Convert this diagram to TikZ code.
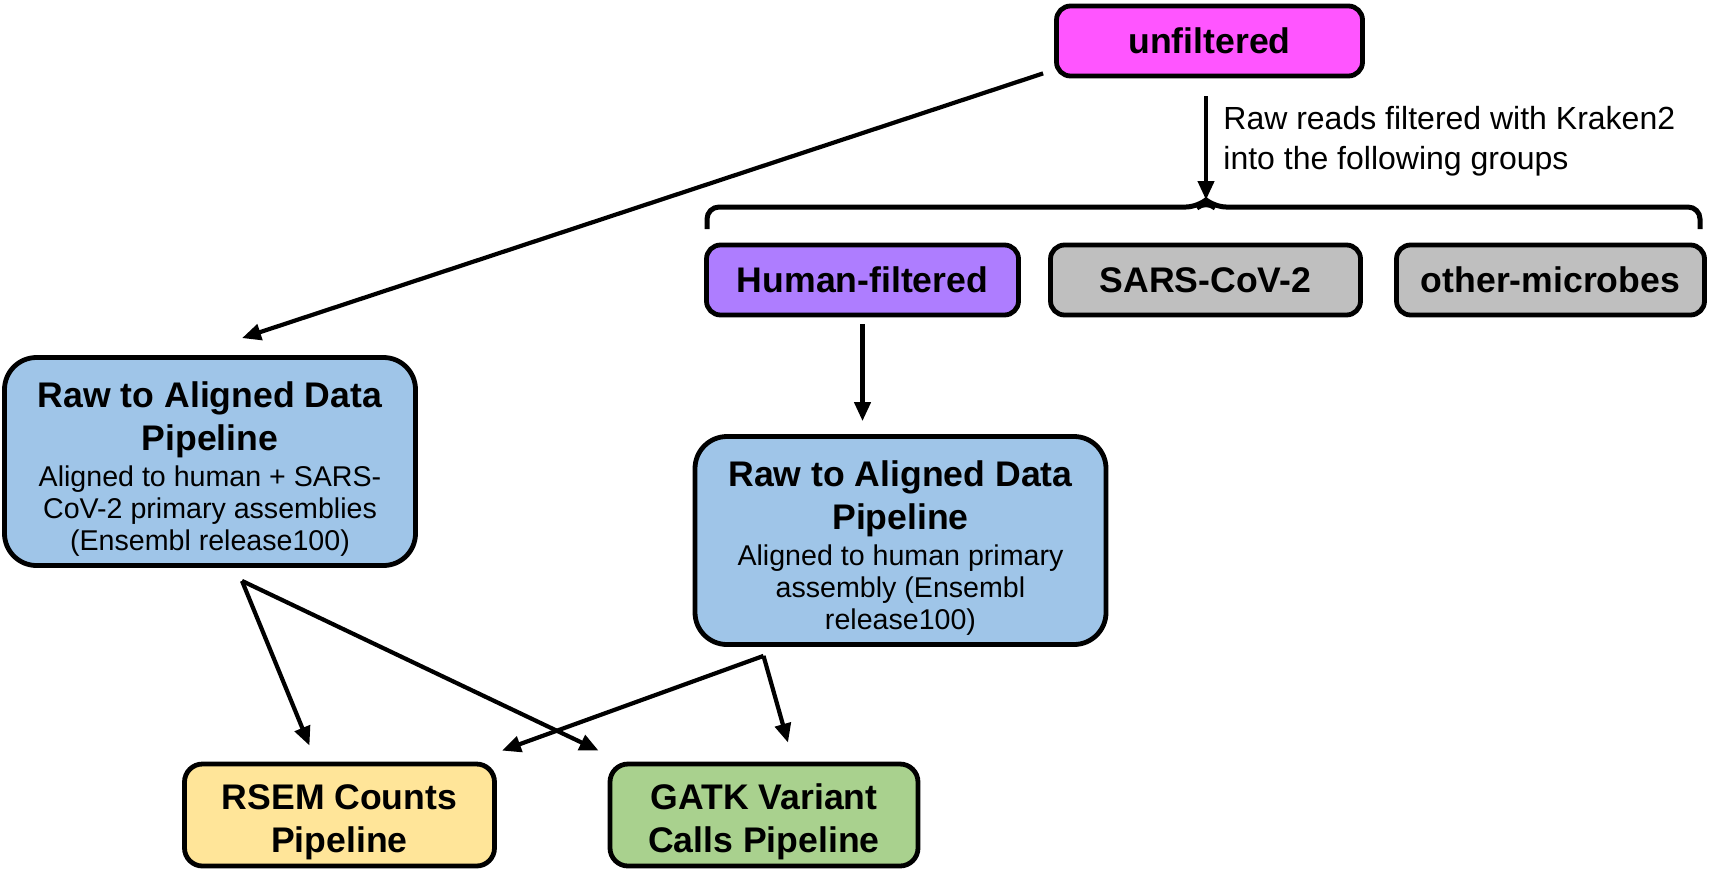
\documentclass[tikz,border=0pt]{standalone}
\usepackage{fontspec}
\setmainfont{Liberation Sans}
\usetikzlibrary{arrows.meta,calc}
\definecolor{cmag}{HTML}{FF55FF}
\definecolor{cpur}{HTML}{AE7DFF}
\definecolor{cgray}{HTML}{BFBFBF}
\definecolor{cblue}{HTML}{9FC5E8}
\definecolor{cyel}{HTML}{FFE599}
\definecolor{cgrn}{HTML}{A9D18E}
\begin{document}
\begin{tikzpicture}[x=0.5pt,y=-0.5pt,
  box/.style={draw=black, line width=2.4pt, inner sep=0pt, align=center},
  smallbox/.style={box, rounded corners=7pt, minimum height=35pt, font=\bfseries\fontsize{17.8}{20.7}\selectfont},
  bigbox/.style={box, rounded corners=16pt, minimum width=205.5pt, minimum height=104pt, fill=cblue},
  endbox/.style={box, rounded corners=9pt, minimum height=51pt},
  titletext/.style={align=center, inner sep=0pt, font=\bfseries\fontsize{17.8}{21.3}\selectfont},
  subtext/.style={align=center, inner sep=0pt, font=\fontsize{14.3}{16}\selectfont},
  arr/.style={line width=2.1pt, -{Triangle[length=9.5pt,width=8pt]}}
]
\useasboundingbox (0,0) rectangle (1712,884);

% top row
\node[smallbox, fill=cmag, minimum width=153pt] (unf) at (1209.5,41) {unfiltered};
\node[smallbox, fill=cpur, minimum width=156pt] (hum) at (862.5,280) {Human-filtered};
\node[smallbox, fill=cgray, minimum width=155pt] (sars) at (1205.5,280) {SARS-CoV-2};
\node[smallbox, fill=cgray, minimum width=154pt] (oth) at (1550.5,280) {other-microbes};

% pipelines
\node[bigbox] (raw1) at (210,461.5) {};
\node[titletext] (raw1t) at (210,419.5) {Raw to Aligned Data\\Pipeline};
\node[subtext] (raw1s) at (210,511) {Aligned to human + SARS-\\CoV-2 primary assemblies\\(Ensembl release100)};

\node[bigbox] (raw2) at (900.5,540.5) {};
\node[titletext] (raw2t) at (900.5,498.5) {Raw to Aligned Data\\Pipeline};
\node[subtext] (raw2s) at (900.5,590) {Aligned to human primary\\assembly (Ensembl\\release100)};

\node[endbox, fill=cyel, minimum width=155pt] (rsem) at (339.5,815) {};
\node[titletext] (rsemt) at (339.5,822) {RSEM Counts\\Pipeline};
\node[endbox, fill=cgrn, minimum width=154pt] (gatk) at (764,815) {};
\node[titletext] (gatkt) at (764,822) {GATK Variant\\Calls Pipeline};

% label
\node[anchor=west, align=left, inner sep=0pt, font=\fontsize{16}{20}\selectfont] (kr) at (1223,141) {Raw reads filtered with Kraken2\\into the following groups};

% brace
\coordinate (bc) at (1206,200);
\draw[line width=2.5pt, rounded corners=6pt] (707,229) -- (707,207) -- (1198,207) -- (bc) -- (1214,207) -- (1700,207) -- (1700,229);

% connectors
\draw[arr] ($(unf.south west)+(-11,-5)$) -- ($(raw1.north)+(32,-17)$);
\draw[arr] ($(unf.south)+(-3.5,18)$) -- (bc);
\draw[arr] ($(hum.south)+(0,7)$) -- ($(raw2.north)+(-38,-13)$);
\coordinate (r1s) at ($(raw1.south)+(32,13)$);
\coordinate (r2s) at ($(raw2.south)+(-137,9)$);
\draw[arr] (r1s) -- ($(rsem.north)+(-30,-16)$);
\draw[arr] (r1s) -- ($(gatk.north west)+(-9,-11)$);
\draw[arr] (r2s) -- ($(rsem.north east)+(5,-11)$);
\draw[arr] (r2s) -- ($(gatk.north)+(24,-19)$);
\end{tikzpicture}
\end{document}
